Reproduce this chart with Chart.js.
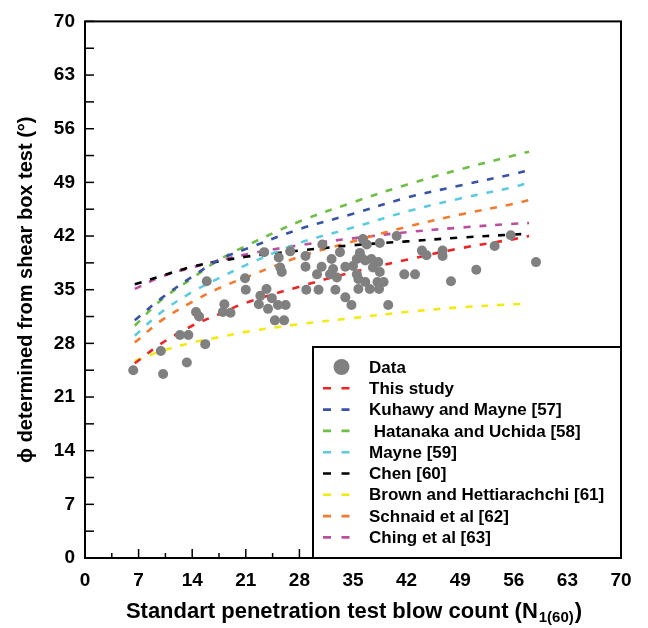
<!DOCTYPE html>
<html>
<head>
<meta charset="utf-8">
<title>Friction angle vs SPT blow count</title>
<script src="https://cdn.jsdelivr.net/npm/chart.js@4.4.1/dist/chart.umd.min.js"></script>
<style>
  html, body { margin: 0; padding: 0; background: #fff; }
  #wrap { width: 648px; height: 628px; }
</style>
</head>
<body>
<div id="wrap"><canvas id="chart" width="648" height="628"></canvas></div>
<script>
// Values

// tick labels, shared by both axes
const tickValues = [0, 7, 14, 21, 28, 35, 42, 49, 56, 63, 70];

// measured points (N1(60), phi)
const dataN = [6.3, 10.2, 9.9, 13.3, 15.7, 12.4, 13.5, 14.5, 14.9, 18.2, 18.0, 19.0, 15.9, 21.0, 20.9,
  22.9, 23.7, 22.7, 23.9, 24.4, 25.2, 26.2, 24.8, 26.0, 25.3, 25.7, 25.5, 23.4, 26.8,
  28.9, 30.5, 32.7, 28.8, 28.8, 30.3, 30.9, 31.0, 32.2, 32.4, 32.9, 32.0, 33.3, 34.0,
  34.8, 34.0, 35.0, 35.7, 35.5, 35.9, 36.1, 36.6, 35.5, 35.7, 36.3, 36.8, 36.6, 37.2,
  38.4, 37.4, 37.6, 38.3, 38.5, 38.2, 39.0, 38.5, 39.6, 40.7, 41.7, 43.1, 44.0, 44.6,
  46.7, 46.7, 47.8, 51.1, 53.5, 55.6, 58.9];
const dataPhi = [24.5, 24.0, 27.0, 25.5, 27.9, 29.1, 29.1, 32.1, 31.5, 33.1, 32.1, 32.0, 36.1, 35.0, 36.5,
  34.2, 35.1, 33.1, 32.5, 33.9, 33.0, 33.0, 31.0, 31.0, 39.2, 37.3, 37.9, 39.9, 40.0,
  35.0, 35.0, 35.0, 39.4, 38.0, 37.0, 38.0, 40.9, 39.0, 37.7, 36.6, 37.0, 39.9, 34.0,
  33.0, 38.0, 38.1, 35.1, 37.0, 39.8, 39.2, 38.8, 39.0, 36.4, 41.6, 40.9, 36.0, 35.1,
  35.1, 39.0, 37.9, 38.6, 37.3, 36.0, 36.0, 41.1, 33.0, 42.0, 37.0, 37.0, 40.1, 39.5,
  40.1, 39.4, 36.1, 37.6, 40.7, 42.1, 38.6];

// correlation curves, sampled at curveN
const curveN = [6.5, 10, 14, 17.5, 21, 28, 35, 42, 49, 56, 58];
const thisStudy = [25.4, 28.0, 30.3, 31.8, 33.3, 35.4, 37.3, 38.9, 40.4, 41.6, 42.0];
const kulhawyMayne = [31.0, 33.9, 36.7, 38.9, 40.3, 42.9, 44.9, 47.0, 48.6, 50.1, 50.6];
const hatanakaUchida = [30.3, 33.7, 36.5, 38.9, 40.7, 43.9, 46.4, 48.7, 50.7, 52.5, 53.0];
const mayne = [29.0, 32.1, 34.7, 36.5, 38.2, 41.1, 43.1, 45.2, 46.9, 48.4, 49.0];
const chen = [35.7, 36.8, 38.0, 38.7, 39.3, 40.1, 40.8, 41.3, 41.8, 42.2, 42.3];
const brownHettiarachchi = [25.7, 27.0, 28.1, 28.8, 29.5, 30.5, 31.3, 32.1, 32.7, 33.1, 33.2];
const schnaid = [28.1, 31.0, 33.4, 35.2, 36.6, 39.3, 41.3, 43.2, 44.8, 46.2, 46.7];
const ching = [35.1, 36.7, 37.9, 38.8, 39.6, 40.8, 41.7, 42.5, 43.1, 43.6, 43.7];

const FONT = '"Liberation Sans", Arial, sans-serif';
Chart.defaults.font.family = FONT;
Chart.defaults.color = '#000';

function toPoints(xs, ys) {
  return xs.map((x, i) => ({ x: x, y: ys[i] }));
}

function curve(label, values, color) {
  return {
    label: label,
    data: toPoints(curveN, values),
    showLine: true,
    borderColor: color,
    backgroundColor: color,
    borderWidth: 2.6,
    borderDash: [7, 9],
    pointRadius: 0,
    tension: 0.35,
    order: 1
  };
}

// inward ticks + box frame around the plot
const frameTicks = {
  id: 'frameTicks',
  afterDatasetsDraw(chart) {
    const { ctx, chartArea: a, scales } = chart;
    ctx.save();
    ctx.strokeStyle = '#000';
    ctx.lineWidth = 1.5;
    const minor = tickValues.slice(1).map((v, i) => (v + tickValues[i]) / 2);
    const drawX = (v, len) => {
      const px = scales.x.getPixelForValue(v);
      ctx.beginPath(); ctx.moveTo(px, a.bottom); ctx.lineTo(px, a.bottom - len); ctx.stroke();
    };
    const drawY = (v, len) => {
      const py = scales.y.getPixelForValue(v);
      ctx.beginPath(); ctx.moveTo(a.left, py); ctx.lineTo(a.left + len, py); ctx.stroke();
    };
    tickValues.forEach(v => { drawX(v, 9); drawY(v, 9); });
    minor.forEach(v => { drawX(v, 5); drawY(v, 9); });
    ctx.lineWidth = 2;
    ctx.strokeRect(a.left, a.top, a.right - a.left, a.bottom - a.top);
    ctx.restore();
  }
};

// legend box in the lower right corner
const legendBox = {
  id: 'legendBox',
  afterDraw(chart) {
    const { ctx, chartArea: a } = chart;
    const left = 313, top = 347;
    const rowH = 21.3;
    ctx.save();
    ctx.fillStyle = '#fff';
    ctx.fillRect(left, top, a.right - left, a.bottom - top);
    ctx.strokeStyle = '#000';
    ctx.lineWidth = 2;
    ctx.strokeRect(left, top, a.right - left, a.bottom - top);

    ctx.font = 'bold 17px ' + FONT;
    ctx.textBaseline = 'middle';
    ctx.textAlign = 'left';
    chart.data.datasets.forEach((ds, i) => {
      const y = top + 20 + i * rowH;
      if (ds.showLine) {
        ctx.strokeStyle = ds.borderColor;
        ctx.lineWidth = 2.6;
        ctx.beginPath();
        ctx.moveTo(left + 10, y); ctx.lineTo(left + 18, y);
        ctx.moveTo(left + 28.5, y); ctx.lineTo(left + 36.5, y);
        ctx.stroke();
      } else {
        ctx.fillStyle = ds.backgroundColor;
        ctx.beginPath();
        ctx.arc(left + 28.5, y, 8, 0, Math.PI * 2);
        ctx.fill();
      }
      ctx.fillStyle = '#000';
      ctx.fillText(ds.label, left + 56, y + 1);
    });
    ctx.restore();
  }
};

// x axis title with subscript
const xTitle = {
  id: 'xTitle',
  afterDraw(chart) {
    const { ctx, chartArea: a } = chart;
    const main = 'Standart penetration test blow count (N';
    const sub = '1(60)';
    const end = ')';
    const big = 'bold 22px ' + FONT;
    const small = 'bold 15px ' + FONT;
    ctx.save();
    ctx.font = big;
    const w1 = ctx.measureText(main).width;
    const w3 = ctx.measureText(end).width;
    ctx.font = small;
    const w2 = ctx.measureText(sub).width;
    let x = (a.left + a.right) / 2 - (w1 + w2 + w3) / 2;
    const y = a.bottom + 60;
    ctx.fillStyle = '#000';
    ctx.textBaseline = 'alphabetic';
    ctx.textAlign = 'left';
    ctx.font = big; ctx.fillText(main, x, y); x += w1;
    ctx.font = small; ctx.fillText(sub, x + 1, y + 4); x += w2 + 2;
    ctx.font = big; ctx.fillText(end, x, y);
    ctx.restore();
  }
};

const ctx = document.getElementById('chart').getContext('2d');
new Chart(ctx, {
  type: 'scatter',
  data: {
    datasets: [
      {
        label: 'Data',
        data: toPoints(dataN, dataPhi),
        backgroundColor: '#808080',
        borderWidth: 0,
        pointRadius: 5,
        order: 0
      },
      curve('This study', thisStudy, '#ee2424'),
      curve('Kuhawy and Mayne [57]', kulhawyMayne, '#3953a6'),
      curve(' Hatanaka and Uchida [58]', hatanakaUchida, '#6dbf45'),
      curve('Mayne [59]', mayne, '#5ccbe0'),
      curve('Chen [60]', chen, '#000000'),
      curve('Brown and Hettiarachchi [61]', brownHettiarachchi, '#f2ea12'),
      curve('Schnaid et al [62]', schnaid, '#f47b2e'),
      curve('Ching et al [63]', ching, '#bb4f9e')
    ]
  },
  options: {
    responsive: false,
    animation: false,
    layout: { padding: { top: 17, right: 27, left: 0, bottom: 0 } },
    plugins: {
      legend: { display: false },
      tooltip: { enabled: false }
    },
    scales: {
      x: {
        type: 'linear',
        min: 0,
        max: 70,
        afterBuildTicks: s => { s.ticks = tickValues.map(v => ({ value: v })); },
        afterFit: s => { s.height = 70; },
        grid: { display: false, drawTicks: false },
        border: { display: false },
        ticks: { padding: 11, font: { size: 19, weight: 'bold' } }
      },
      y: {
        type: 'linear',
        min: 0,
        max: 70,
        afterBuildTicks: s => { s.ticks = tickValues.map(v => ({ value: v })); },
        afterFit: s => { s.width = 85; },
        grid: { display: false, drawTicks: false },
        border: { display: false },
        ticks: { padding: 10, font: { size: 19, weight: 'bold' } },
        title: {
          display: true,
          text: 'ϕ determined from shear box test (°)',
          font: { size: 20, weight: 'bold' },
          padding: { top: 14, bottom: 0 }
        }
      }
    }
  },
  plugins: [frameTicks, legendBox, xTitle]
});
</script>
</body>
</html>
